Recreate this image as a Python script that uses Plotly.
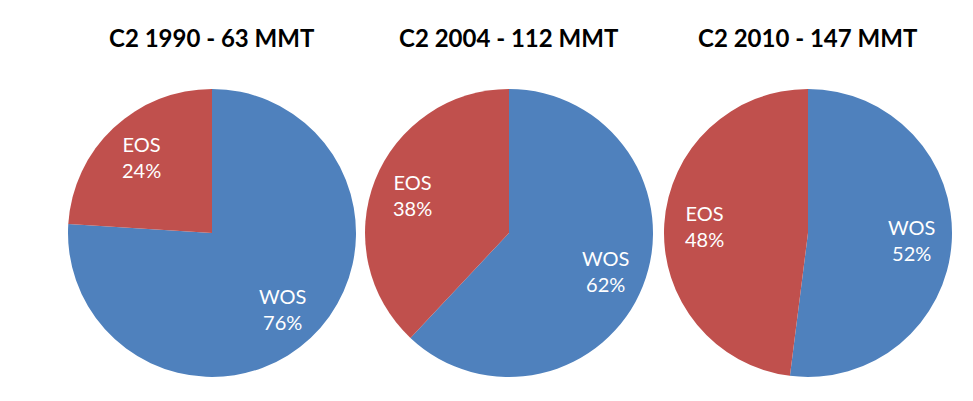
import math
import plotly.graph_objects as go

labels = ["WOS", "EOS"]
titles = ["C2 1990 - 63 MMT", "C2 2004 - 112 MMT", "C2 2010 - 147 MMT"]
shares = [[76, 24], [62, 38], [52, 48]]
colors = ["#4F81BD", "#C0504D"]

W, H = 973, 401
centers_x = [212, 509, 808]
center_y = 233
radius = 144
label_r = 0.72

fig = go.Figure()
for i, (t, vals) in enumerate(zip(titles, shares)):
    cx = centers_x[i]
    dx = [(cx - radius) / W, (cx + radius) / W]
    dy = [(H - center_y - radius) / H, (H - center_y + radius) / H]
    fig.add_trace(go.Pie(
        labels=labels, values=vals, sort=False, direction="clockwise", rotation=0,
        marker=dict(colors=colors), textinfo="none",
        domain=dict(x=dx, y=dy), showlegend=False, hoverinfo="label+percent",
    ))
    total = sum(vals)
    start = 0.0
    for lab, v in zip(labels, vals):
        mid = (start + v / 2) / total * 2 * math.pi
        start += v
        px = cx + label_r * radius * math.sin(mid)
        py = center_y - label_r * radius * math.cos(mid)
        fig.add_annotation(text=f"{lab}<br>{v}%", x=px / W, y=1 - py / H,
                           xref="paper", yref="paper", showarrow=False,
                           font=dict(family="Lato", size=20, color="white"),
                           xanchor="center", yanchor="middle")
    fig.add_annotation(text="<b>" + t + "</b>", x=cx / W, y=1 - 37 / H, xref="paper", yref="paper",
                       showarrow=False, font=dict(family="Lato", size=24, color="black"),
                       xanchor="center", yanchor="middle")

fig.update_layout(width=W, height=H, margin=dict(l=0, r=0, t=0, b=0),
                  paper_bgcolor="white", plot_bgcolor="white")
fig.write_html("out.html", config={"displayModeBar": False},
               post_script="document.body.style.margin='0';")
